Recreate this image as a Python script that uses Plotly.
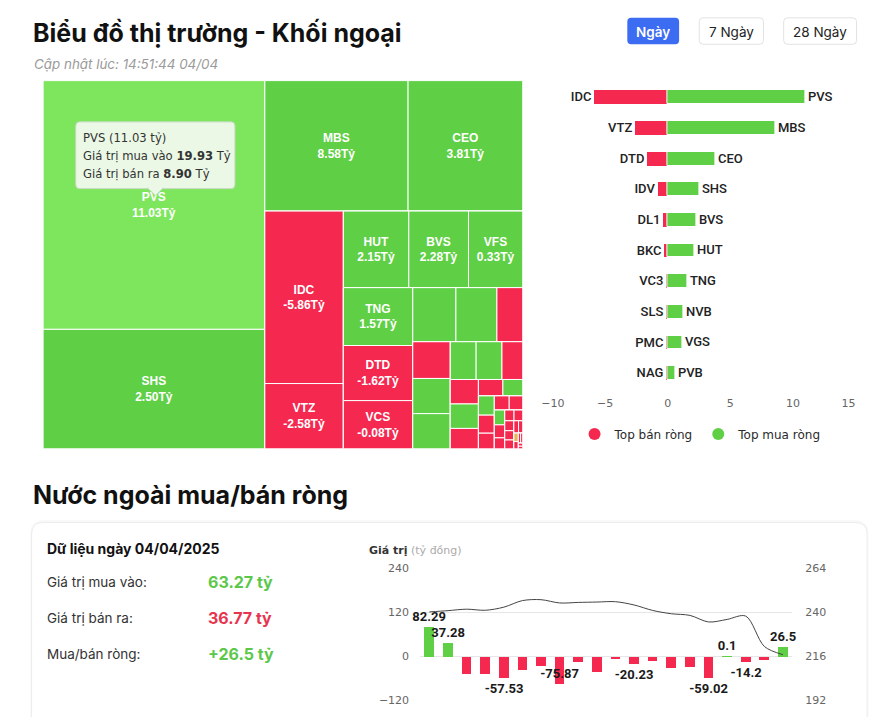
import plotly.graph_objects as go

W, H = 884, 717


def px(x):
    return x / W


def py(y):
    return 1 - y / H


# ---------------- data ----------------
# Treemap: foreign trading per ticker (size = total traded value, colour = sign of net)
tm_names = ["PVS", "SHS", "MBS", "CEO", "IDC", "VTZ", "HUT", "BVS", "VFS", "TNG", "DTD", "VCS",
            "NVB", "VGS", "IDV", "DL1", "TIG", "L14", "NTP", "PVB", "BKC", "VC3", "HHC", "SLS",
            "PMC", "DHT", "LAS", "NAG", "TVD", "VIG", "DVM", "APS", "KSV", "TAR",
            "SCG", "HLD", "AMV", "VNR", "PSD", "VMC", "MST", "BCC", "TDN", "HHP", "IDJ", "API", "PVC"]
tm_net = [11.03, 2.50, 8.58, 3.81, -5.86, -2.58, 2.15, 2.28, 0.33, 1.57, -1.62, -0.08,
          1.22, 1.15, -0.72, -0.36, 0.45, 0.40, 0.30, 0.50, -0.28, -0.13, 0.25, -0.10,
          -0.09, 0.12, 0.10, -0.08, -0.06, -0.05, -0.05, 0.04, -0.04, -0.03,
          -0.03, -0.03, -0.02, -0.02, -0.02, -0.02, -0.01, 0.00, -0.01, -0.01, -0.01, -0.01, -0.01]
tm_total = [28.83, 13.85, 9.77, 7.82, 7.08, 2.68, 2.62, 2.39, 2.17, 2.10, 2.00, 1.75,
            1.22, 1.16, 0.73, 0.72, 0.69, 0.69, 0.51, 0.51, 0.41, 0.36, 0.36, 0.30,
            0.21, 0.17, 0.16, 0.15, 0.13, 0.11, 0.10, 0.081, 0.071, 0.060,
            0.052, 0.049, 0.047, 0.044, 0.042, 0.030, 0.027, 0.020, 0.017, 0.012, 0.011, 0.007, 0.006]
# number of tiles in each strip (strips alternate column / row, as in the picture)
tm_strips = [2, 2, 2, 3, 3, 3, 3, 3, 3, 2, 3, 2, 3, 2, 3, 2, 2, 2, 2]
tm_labelled = 12
tm_hovered = "PVS"

# Top net sellers / buyers
sell_names = ["IDC", "VTZ", "DTD", "IDV", "DL1", "BKC", "VC3", "SLS", "PMC", "NAG"]
sell_vals = [-5.86, -2.58, -1.62, -0.74, -0.36, -0.28, -0.13, -0.10, -0.09, -0.08]
buy_names = ["PVS", "MBS", "CEO", "SHS", "BVS", "HUT", "TNG", "NVB", "VGS", "PVB"]
buy_vals = [11.03, 8.58, 3.81, 2.50, 2.28, 2.15, 1.57, 1.22, 1.15, 0.59]
top_ticks = [-10, -5, 0, 5, 10, 15]
# end labels are pulled inside the axis, as in the picture
top_ticktext = ["\u00a0" * 6 + "−10", "−5", "0", "5", "10", "15" + "\u00a0" * 4]

# Daily net foreign flow (bars, left axis) and index (line, right axis)
days = ["10/03", "11/03", "12/03", "13/03", "14/03", "17/03", "18/03", "19/03", "20/03", "21/03",
        "24/03", "25/03", "26/03", "27/03", "28/03", "31/03", "01/04", "02/04", "03/04", "04/04"]
net_flow = [82.29, 37.28, -48, -48, -57.53, -35, -26, -75.87, -15, -42,
            -7, -20.23, -12.5, -32, -29, -59.02, 0.1, -14.2, -8, 26.5]
net_shown = [True, True, False, False, True, False, False, True, False, False,
             False, True, False, False, False, True, True, True, False, True]
index_line = [240.3, 241.0, 241.8, 241.2, 242.9, 246.5, 247.0, 245.2, 245.5, 245.7,
              245.9, 244.1, 241.1, 239.3, 238.4, 234.8, 236.2, 238.0, 221.4, 216.9]

# ---------------- colours ----------------
GREEN = "#5fcf46"
GREEN_HI = "#7ee65d"
RED = "#f5284f"
TAN = "#e2b75a"

fig = go.Figure()

# ---------------- treemap (strip hierarchy, slice/dice alternating) ----------------
ids, labels, parents, values, colors, texts = [], [], [], [], [], []


def add(i, lab, par, val, col, txt):
    ids.append(i); labels.append(lab); parents.append(par)
    values.append(val); colors.append(col); texts.append(txt)


add("root", "", "", 0, "white", "")
parent = "root"
k = 0
for gi, cnt in enumerate(tm_strips):
    gid = f"strip{gi}"
    add(gid, "", parent, 0, "white", "")
    for j in range(cnt):
        n = tm_names[k]
        v = tm_net[k]
        if n == tm_hovered:
            c = GREEN_HI
        elif v > 0:
            c = GREEN
        elif v < 0:
            c = RED
        else:
            c = TAN
        t = f"{n}<br>{v:.2f}Tỷ" if k < tm_labelled else ""
        add(n, n, gid, tm_total[k], c, t)
        k += 1
    if gi < len(tm_strips) - 1:
        rid = f"rest{gi}"
        add(rid, "", parent, 0, "white", "")
        parent = rid

fig.add_trace(go.Treemap(
    ids=ids, labels=labels, parents=parents, values=values,
    branchvalues="remainder", sort=False,
    text=texts, texttemplate="%{text}", textposition="middle center",
    textfont=dict(family="Liberation Sans, Arial, sans-serif", size=12, color="white", weight="bold"),
    marker=dict(colors=colors, line=dict(color="white", width=1),
                pad=dict(t=0, l=0, r=0, b=0), depthfade=False),
    tiling=dict(packing="slice-dice", pad=0),
    pathbar=dict(visible=False),
    hoverinfo="skip",
    domain=dict(x=[px(22), px(522)], y=[py(451), py(76)]),
))

# ---------------- butterfly bar chart ----------------
rows = list(range(len(sell_names)))
fig.add_trace(go.Bar(
    y=rows, x=sell_vals, orientation="h", width=0.45,
    marker=dict(color=RED, line=dict(width=0)),
    text=sell_names, textposition="outside", cliponaxis=False, constraintext="none",
    textfont=dict(family="Roboto, sans-serif", size=13, color="#222", weight=500),
    showlegend=False, hoverinfo="skip", xaxis="x", yaxis="y",
))
fig.add_trace(go.Bar(
    y=rows, x=buy_vals, orientation="h", width=0.45,
    marker=dict(color=GREEN, line=dict(width=1, color="white")),
    text=buy_names, textposition="outside", cliponaxis=False, constraintext="none",
    textfont=dict(family="Roboto, sans-serif", size=13, color="#222", weight=500),
    showlegend=False, hoverinfo="skip", xaxis="x", yaxis="y",
))
fig.add_trace(go.Scatter(x=[None], y=[None], mode="markers", name="Top bán ròng",
                         marker=dict(color=RED, size=12), xaxis="x", yaxis="y"))
fig.add_trace(go.Scatter(x=[None], y=[None], mode="markers", name="Top mua ròng",
                         marker=dict(color=GREEN, size=12), xaxis="x", yaxis="y"))

# ---------------- net flow chart ----------------
bar_colors = [GREEN if v >= 0 else RED for v in net_flow]
bar_text = [(f"{v:g}" if s else "") for v, s in zip(net_flow, net_shown)]
bar_pos = ["inside" if v == min(net_flow) else "outside" for v in net_flow]
fig.add_trace(go.Bar(
    x=days, y=net_flow, width=0.52, marker=dict(color=bar_colors, line=dict(width=0)),
    text=bar_text, textposition=bar_pos, insidetextanchor="end", textangle=0,
    cliponaxis=False, constraintext="none",
    textfont=dict(family="Roboto, sans-serif", size=13, color="#1a1a1a", weight="bold"),
    showlegend=False, hoverinfo="skip", xaxis="x2", yaxis="y2",
))
fig.add_trace(go.Scatter(
    x=days, y=index_line, mode="lines",
    line=dict(color="#444", width=1, shape="spline", smoothing=0.9),
    showlegend=False, hoverinfo="skip", xaxis="x2", yaxis="y3",
))

tickfont = dict(family="DejaVu Sans, sans-serif", size=11, color="#666")

fig.update_layout(
    width=W, height=H, autosize=False,
    margin=dict(l=0, r=0, t=0, b=0),
    paper_bgcolor="white", plot_bgcolor="rgba(0,0,0,0)",
    barmode="relative", bargap=0,
    xaxis=dict(domain=[px(542.5), px(869)], range=[-10, 15], tickvals=top_ticks,
               ticktext=top_ticktext,
               showgrid=False, zeroline=False, showline=False, ticks="", tickfont=tickfont,
               anchor="y", ticklabelstandoff=6, fixedrange=True),
    yaxis=dict(domain=[py(389.6), py(77.4)], range=[9.5, -0.5], showticklabels=False,
               showgrid=False, zeroline=False, showline=False, anchor="x"),
    xaxis2=dict(domain=[px(415), px(803)], type="category", showticklabels=False,
                showgrid=False, zeroline=False, showline=False, ticks="", anchor="y2"),
    yaxis2=dict(domain=[py(707), py(573)], range=[-120, 240], tickvals=[-120, 0, 120, 240],
                showgrid=True, gridcolor="#e6e6e6", gridwidth=1, zeroline=False, showline=False,
                ticks="", tickfont=tickfont, anchor="x2", ticklabelstandoff=10),
    yaxis3=dict(domain=[py(707), py(573)], range=[192, 264], tickvals=[192, 216, 240, 264],
                overlaying="y2", side="right", showgrid=False, zeroline=False, showline=False,
                ticks="", tickfont=tickfont, anchor="x2", ticklabelstandoff=12),
    legend=dict(orientation="h", x=px(576), y=py(436), xanchor="left", yanchor="middle",
                font=dict(family="DejaVu Sans, sans-serif", size=12, color="#2a2a2a"),
                bgcolor="rgba(0,0,0,0)", itemwidth=30),
    showlegend=True,
)


# ---------------- decoration ----------------
def rrect(x0, y0, x1, y1, r):
    rx, ry = r / W, r / H
    X0, X1, Y0, Y1 = px(x0), px(x1), py(y0), py(y1)
    return (f"M{X0 + rx},{Y0} L{X1 - rx},{Y0} Q{X1},{Y0} {X1},{Y0 - ry} "
            f"L{X1},{Y1 + ry} Q{X1},{Y1} {X1 - rx},{Y1} L{X0 + rx},{Y1} "
            f"Q{X0},{Y1} {X0},{Y1 + ry} L{X0},{Y0 - ry} Q{X0},{Y0} {X0 + rx},{Y0} Z")


shapes = []
# card with soft shadow
shapes.append(dict(type="path", xref="paper", yref="paper", path=rrect(8.5, 523.5, 882.5, 760, 14),
                   fillcolor="rgba(0,0,0,0.025)", line=dict(width=0), layer="below"))
shapes.append(dict(type="path", xref="paper", yref="paper", path=rrect(10, 526, 881, 760, 12),
                   fillcolor="white", line=dict(color="#ececec", width=1), layer="below"))
# period buttons
shapes.append(dict(type="path", xref="paper", yref="paper", path=rrect(631, 12, 685, 39, 4),
                   fillcolor="#3b6cf2", line=dict(width=0)))
shapes.append(dict(type="path", xref="paper", yref="paper", path=rrect(706, 12, 773, 39, 4),
                   fillcolor="white", line=dict(color="#e2e2e2", width=1)))
shapes.append(dict(type="path", xref="paper", yref="paper", path=rrect(794, 12, 870, 39, 4),
                   fillcolor="white", line=dict(color="#e2e2e2", width=1)))
# tooltip box and pointer
shapes.append(dict(type="path", xref="paper", yref="paper", path=rrect(56, 118, 222, 186, 4),
                   fillcolor="rgba(238,248,234,0.97)", line=dict(color="#c6d8c0", width=1)))
shapes.append(dict(type="path", xref="paper", yref="paper",
                   path=f"M{px(131)},{py(185.5)} L{px(139)},{py(193)} L{px(147)},{py(185.5)} Z",
                   fillcolor="rgba(238,248,234,0.97)", line=dict(color="#c6d8c0", width=1)))
shapes.append(dict(type="line", xref="paper", yref="paper", x0=px(132), x1=px(146),
                   y0=py(185.5), y1=py(185.5), line=dict(color="rgba(238,248,234,1)", width=2)))
fig.update_layout(shapes=shapes)

ann = []


def text(x, y, s, size, color="#222", family="Inter, sans-serif", weight="normal", style="normal",
         xanchor="left"):
    ann.append(dict(x=px(x), y=py(y), xref="paper", yref="paper", text=s, showarrow=False,
                    xanchor=xanchor, yanchor="middle",
                    font=dict(family=family, size=size, color=color, weight=weight, style=style)))


text(9, 27, "Biểu đồ thị trường - Khối ngoại", 25, "#111", weight="bold")
text(10, 59, "Cập nhật lúc: 14:51:44 04/04", 13.4, "#9a9a9a", style="italic")
text(658, 26, "Ngày", 13.5, "white", weight=600, xanchor="center")
text(739.5, 26, "7 Ngày", 13.5, "#222", xanchor="center")
text(832, 26, "28 Ngày", 13.5, "#222", xanchor="center")

tip = "DejaVu Sans, sans-serif"
text(62, 134, "PVS (11.03 tỷ)", 11.6, "#333", family=tip)
text(62, 152.5, "Giá trị mua vào <b>19.93</b> Tỷ", 11.6, "#333", family=tip)
text(62, 171, "Giá trị bán ra <b>8.90</b> Tỷ", 11.6, "#333", family=tip)

text(9, 498, "Nước ngoài mua/bán ròng", 25, "#111", weight="bold")
text(24, 553, "Dữ liệu ngày 04/04/2025", 14, "#111", weight="bold")
text(24, 587, "Giá trị mua vào:", 13.5, "#333")
text(24, 623, "Giá trị bán ra:", 13.5, "#333")
text(24, 660, "Mua/bán ròng:", 13.5, "#333")
text(192, 587, "63.27 tỷ", 16, "#5cc84a", weight="bold")
text(192, 623, "36.77 tỷ", 16, "#e8354f", weight="bold")
text(192, 660, "+26.5 tỷ", 16, "#5cc84a", weight="bold")
text(360, 555, "<b>Giá trị</b> <span style='color:#aaa'>(tỷ đồng)</span>", 11, "#333",
     family=tip)

fig.update_layout(annotations=ann)

fig.write_html("out.html")
